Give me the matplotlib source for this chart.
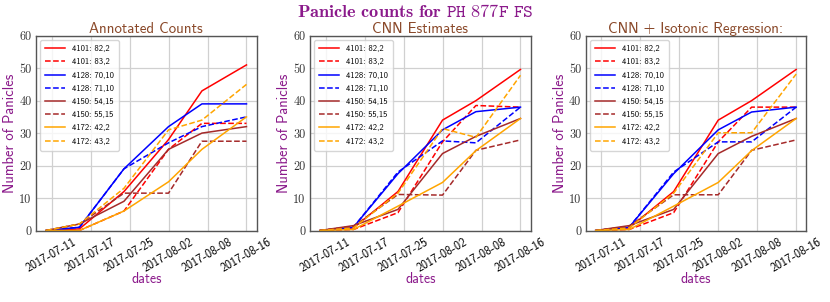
import matplotlib
matplotlib.use("Agg")
import matplotlib.pyplot as plt
from matplotlib.ticker import FuncFormatter
import pandas as pd

plt.rcParams['mathtext.fontset'] = 'cm'
plt.rcParams['axes.formatter.use_mathtext'] = True

dates = ["2017-07-11", "2017-07-17", "2017-07-25", "2017-08-02", "2017-08-08", "2017-08-16"]
tick_dates = ["2017-07-12", "2017-07-19", "2017-07-26", "2017-08-02", "2017-08-09", "2017-08-16"]
tick_labels = dates

series_labels = ["4101: 82,2", "4101: 83,2", "4128: 70,10", "4128: 71,10",
                 "4150: 54,15", "4150: 55,15", "4172: 42,2", "4172: 43,2"]
series_colors = ["red", "red", "blue", "blue", "brown", "brown", "orange", "orange"]
series_styles = ["-", "--", "-", "--", "-", "--", "-", "--"]

annotated = [
    [0, 0.5, 12, 28, 43, 51],
    [0, 0, 6, 25, 33, 33],
    [0, 1, 19, 32, 39, 39],
    [0, 1, 19, 27, 32, 35],
    [0, 2, 9, 25, 30, 32],
    [0, 2, 11.5, 11.5, 27.5, 27.5],
    [0, 0, 6, 15, 25, 35],
    [0, 2, 13, 31, 34, 45],
]
cnn = [
    [0, 0.8, 12, 34, 40, 49.6],
    [0, 0.3, 5.5, 27.3, 38.5, 38],
    [0, 1, 17.5, 31, 36.6, 38],
    [0, 1, 18, 27.6, 27, 38],
    [0, 1.5, 6.5, 23.7, 29, 34.5],
    [0, 1.3, 11.1, 10.9, 24.7, 27.9],
    [0, 0.3, 7.5, 14.8, 24.6, 34.5],
    [0, 0.8, 11.5, 31.4, 28.7, 47.8],
]
isotonic = [
    [0, 0.8, 12, 34, 40, 49.6],
    [0, 0.3, 5.5, 27.3, 38, 38],
    [0, 1, 17.5, 31, 36.5, 38],
    [0, 1, 18, 27.3, 27.3, 38],
    [0, 1.5, 6.5, 23.7, 29, 34.5],
    [0, 1.3, 11, 11, 24.7, 27.9],
    [0, 0.3, 7.5, 14.8, 24.6, 34.5],
    [0, 0.8, 11.5, 30.1, 30.1, 48.2],
]
panel_titles = ["Annotated Counts", "CNN Estimates", "CNN + Isotonic Regression:"]
panel_data = [annotated, cnn, isotonic]

x = pd.to_datetime(dates)
xt = pd.to_datetime(tick_dates)

fig = plt.figure(figsize=(8.3, 3.02), dpi=100)
lefts = [36 / 830, 310 / 830, 585.7 / 830]
bottom = 1 - 230.5 / 302
height = (230.5 - 35.7) / 302
width = 220.5 / 830

purple = "#8b1a8b"
brown_title = "#8b4a2b"

for i, (title, data) in enumerate(zip(panel_titles, panel_data)):
    ax = fig.add_axes([lefts[i], bottom, width, height])
    for vals, lab, c, ls in zip(data, series_labels, series_colors, series_styles):
        ax.plot(x, vals, color=c, linestyle=ls, linewidth=1.1, label=lab)
    ax.set_ylim(0, 60)
    ax.set_yticks([0, 10, 20, 30, 40, 50, 60])
    ax.yaxis.set_major_formatter(FuncFormatter(lambda v, p: "%d" % v))
    ax.set_xticks(xt)
    ax.set_xticklabels(tick_labels, rotation=30, ha="center",
                       fontfamily="cmss10", fontsize=8.7)
    for t in ax.get_yticklabels():
        t.set_fontfamily("cmr10")
        t.set_fontsize(8.8)
        t.set_color("#333333")
    ax.tick_params(axis="both", length=0)
    ax.tick_params(axis="y", pad=3.2)
    ax.tick_params(axis="x", pad=4)
    ax.grid(True, color="#d0d0d0", linewidth=0.9)
    ax.set_axisbelow(True)
    for sp in ax.spines.values():
        sp.set_color("#555555")
        sp.set_linewidth(1.0)
    ax.set_title(title, fontfamily="cmss10", fontsize=10.8, color=brown_title, pad=2)
    ax.set_xlabel("dates", fontfamily="cmss10", fontsize=10, color=purple)
    ax.xaxis.set_label_coords(0.5, -0.215)
    ax.set_ylabel("Number of Panicles", fontfamily="cmss10", fontsize=10.5, color=purple)
    ax.yaxis.set_label_coords(-0.085, 0.5)
    leg = ax.legend(loc="upper left", prop={"family": "cmss10", "size": 6.2},
                    handlelength=2.3, borderpad=0.6, labelspacing=0.6, frameon=True)
    leg.get_frame().set_edgecolor("#cccccc")

fig.text(0.5, 1 - 16.7 / 302, r"$\mathbf{Panicle\ counts\ for}\ \mathtt{PH\ 877F\ FS}$",
         ha="center", va="baseline", fontsize=13.2, color=purple)

fig.savefig("out.png", dpi=100)
